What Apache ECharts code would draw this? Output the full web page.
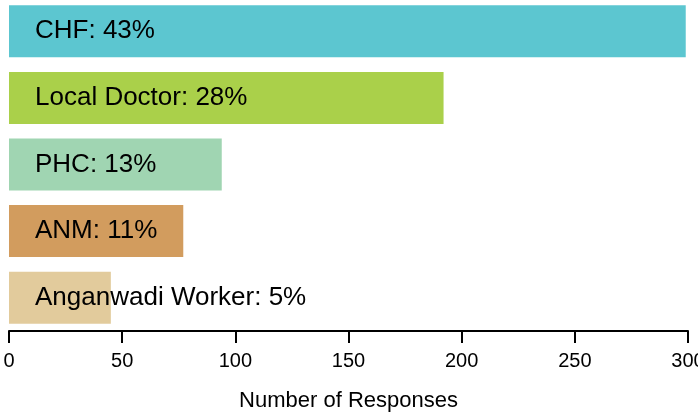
<!DOCTYPE html>
<html>
<head>
<meta charset="utf-8">
<script src="https://cdn.jsdelivr.net/npm/echarts@6/dist/echarts.min.js"></script>
<style>html,body{margin:0;padding:0;background:#fff}#c{width:698px;height:417px}</style>
</head>
<body>
<div id="c"></div>
<script>
const categories = ['CHF', 'Local Doctor', 'PHC', 'ANM', 'Anganwadi Worker'];
const values = [299, 192, 94, 77, 45];
const percentLabels = ['43%', '28%', '13%', '11%', '5%'];
const colors = ['#5CC6D0', '#AAD04A', '#A0D5B2', '#D29C5E', '#E2CB9C'];
const xTicks = [0, 50, 100, 150, 200, 250, 300];

const FONT = '"Liberation Sans", Arial, Helvetica, sans-serif';
const chart = echarts.init(document.getElementById('c'), null, {renderer: 'canvas'});
chart.setOption({
  animation: false,
  grid: {left: 9, right: 10, top: -2, bottom: 86, containLabel: false, outerBoundsMode: 'none'},
  xAxis: {
    type: 'value', min: xTicks[0], max: xTicks[xTicks.length - 1], interval: 50,
    name: 'Number of Responses', nameLocation: 'middle', nameGap: 59,
    nameTextStyle: {fontFamily: FONT, fontSize: 22, color: '#000'},
    axisLine: {show: true, lineStyle: {color: '#000', width: 2}},
    axisTick: {show: true, length: 12, lineStyle: {color: '#000', width: 2}},
    axisLabel: {fontFamily: FONT, fontSize: 20, color: '#000', margin: 20},
    splitLine: {show: false}
  },
  yAxis: {
    type: 'category', data: categories, inverse: true,
    axisLine: {show: false}, axisTick: {show: false}, axisLabel: {show: false}
  },
  series: [{
    type: 'bar',
    barWidth: 52,
    data: values.map((v, i) => ({value: v, itemStyle: {color: colors[i]}})),
    label: {
      show: true,
      position: [26, '50%'],
      verticalAlign: 'middle',
      align: 'left',
      fontFamily: FONT, fontSize: 26, color: '#000',
      formatter: p => categories[p.dataIndex] + ': ' + percentLabels[p.dataIndex]
    }
  }]
});
</script>
</body>
</html>
